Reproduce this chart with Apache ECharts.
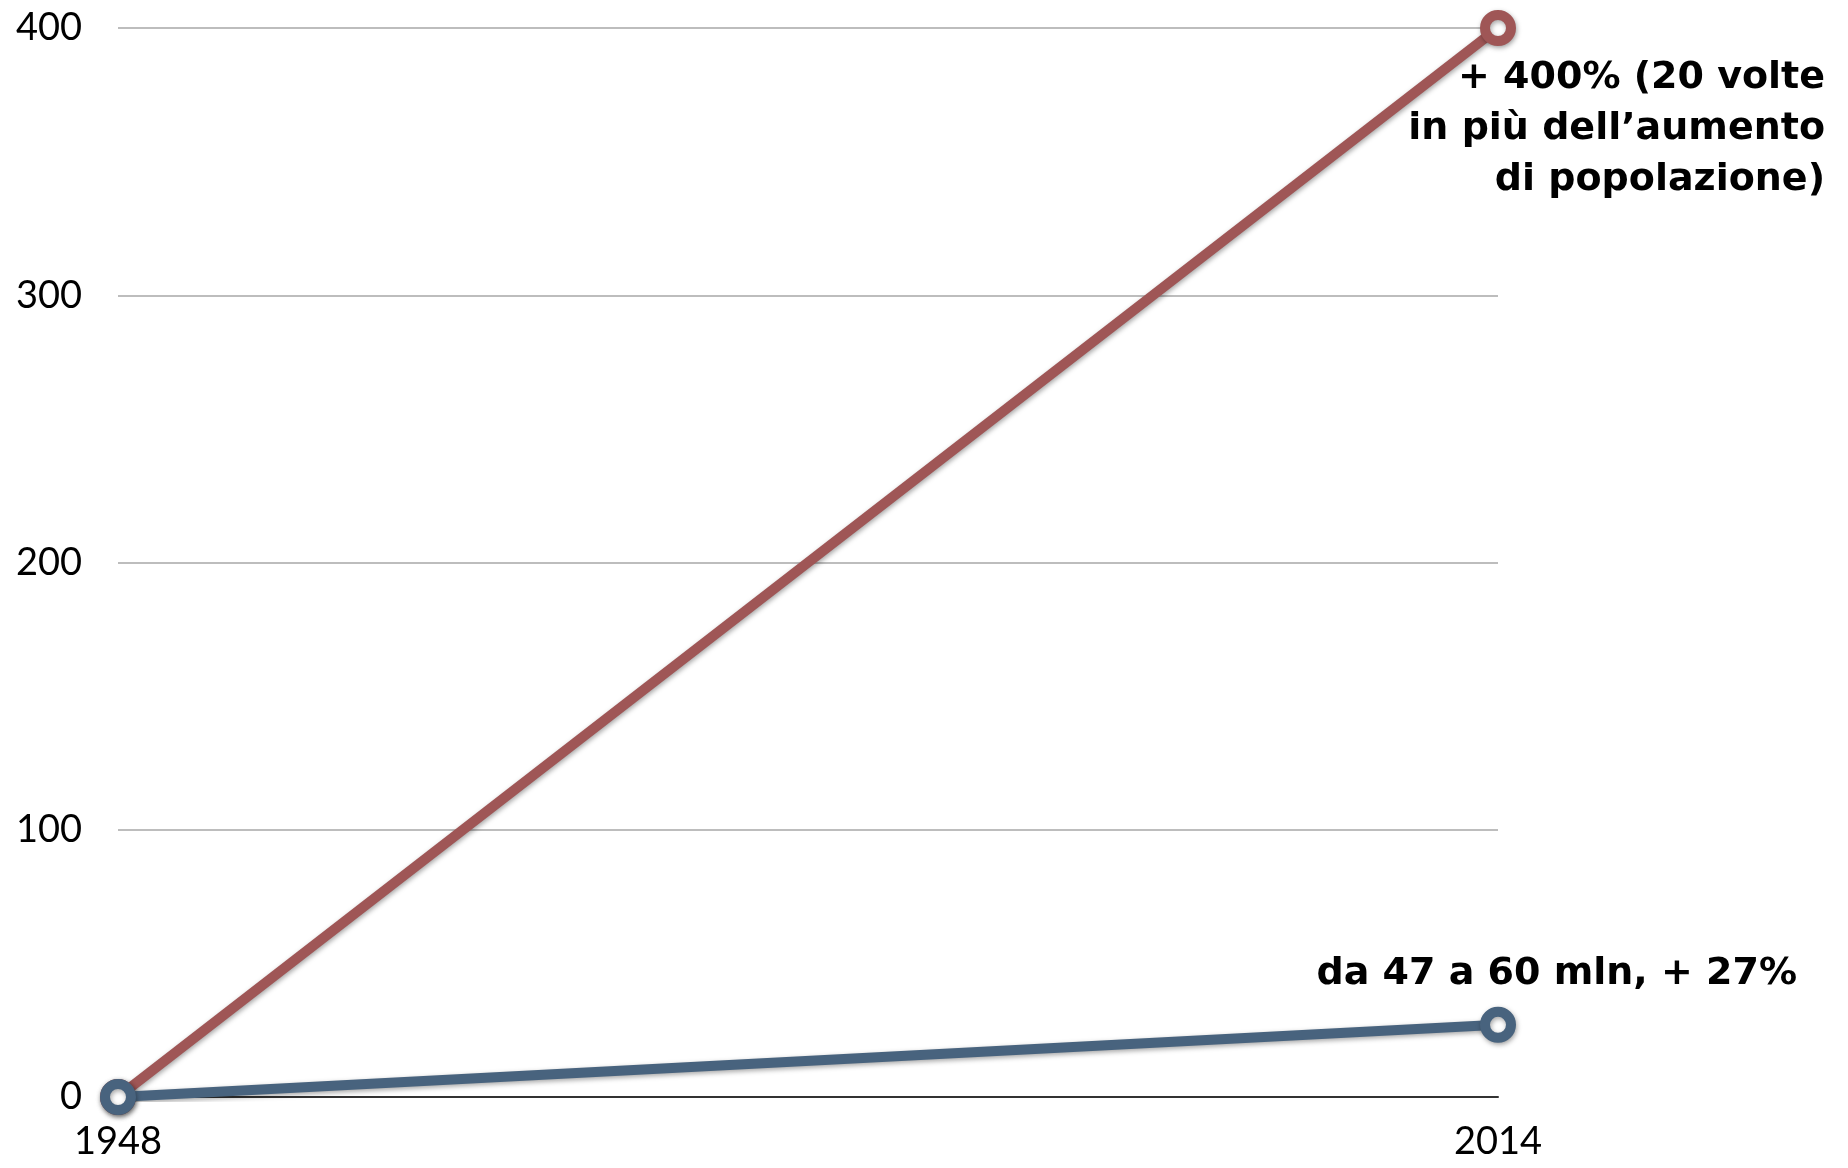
<!DOCTYPE html>
<html>
<head>
<meta charset="utf-8">
<script src="https://cdn.jsdelivr.net/npm/echarts@6/dist/echarts.min.js"></script>
<style>
html,body{margin:0;padding:0;background:#fff;}
#chart{width:1848px;height:1168px;}
</style>
</head>
<body>
<div id="chart"></div>
<script>
const years = ['1948', '2014'];
const redValues = [0, 400];
const blueValues = [0, 27];
const redNote = '+ 400% (20 volte\nin più dell\u2019aumento\ndi popolazione)';
const blueNote = 'da 47 a 60 mln, + 27%';

const RED = '#9f5656';
const BLUE = '#48637e';
const FONT = 'Lato, "DejaVu Sans", sans-serif';
const NOTE_FONT = '"DejaVu Sans", "Open Sans", sans-serif';

function makeData(values, note, offset) {
  return values.map((v, i) => {
    if (i === values.length - 1) {
      return {
        value: v,
        label: {
          show: true,
          formatter: note,
          position: 'inside',
          align: 'right',
          verticalAlign: 'middle',
          offset: offset,
          color: '#000',
          fontFamily: NOTE_FONT,
          fontWeight: 'bold',
          fontSize: 38,
          lineHeight: 51
        }
      };
    }
    return v;
  });
}

const shadow = { shadowBlur: 5, shadowColor: 'rgba(0,0,0,0.35)', shadowOffsetX: 1, shadowOffsetY: 2 };

const chart = echarts.init(document.getElementById('chart'), null, { renderer: 'canvas' });
chart.setOption({
  animation: false,
  backgroundColor: '#fff',
  grid: { left: 118, right: 350, top: 28, bottom: 71, containLabel: false },
  xAxis: {
    type: 'category',
    data: years,
    boundaryGap: false,
    axisLine: { show: true, lineStyle: { color: '#333', width: 2 } },
    axisTick: { show: false },
    axisLabel: { color: '#000', fontFamily: FONT, fontSize: 38, margin: 26 },
    splitLine: { show: false }
  },
  yAxis: {
    type: 'value',
    min: 0,
    max: 400,
    interval: 100,
    axisLine: { show: false },
    axisTick: { show: false },
    axisLabel: { color: '#000', fontFamily: FONT, fontSize: 38, margin: 36 },
    splitLine: { show: true, lineStyle: { color: '#bdbdbd', width: 2 } }
  },
  series: [
    {
      type: 'line',
      data: makeData(redValues, redNote, [327, 101]),
      symbol: 'circle',
      symbolSize: 26,
      showAllSymbol: true,
      lineStyle: Object.assign({ color: RED, width: 10 }, shadow),
      itemStyle: Object.assign({ color: '#fff', borderColor: RED, borderWidth: 10 }, shadow),
      z: 2
    },
    {
      type: 'line',
      data: makeData(blueValues, blueNote, [299, -51]),
      symbol: 'circle',
      symbolSize: 26,
      showAllSymbol: true,
      lineStyle: Object.assign({ color: BLUE, width: 10 }, shadow),
      itemStyle: Object.assign({ color: '#fff', borderColor: BLUE, borderWidth: 10 }, shadow),
      z: 3
    }
  ]
});
</script>
</body>
</html>
